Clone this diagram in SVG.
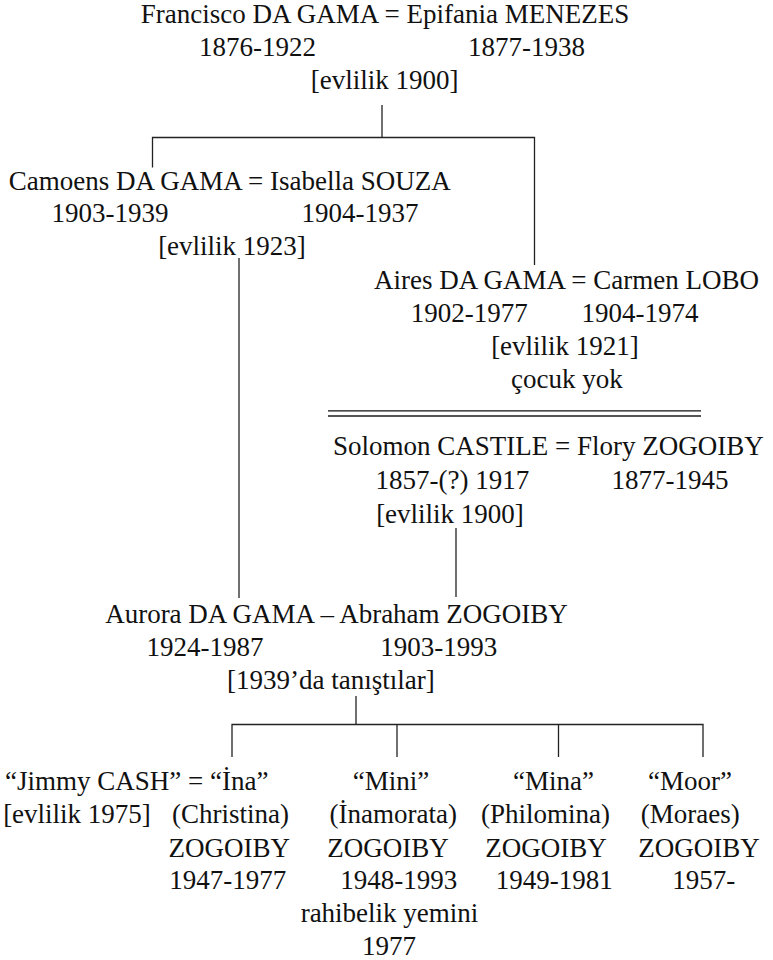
<svg xmlns="http://www.w3.org/2000/svg" width="773" height="960" viewBox="0 0 773 960">
<style>
text{font-family:"Liberation Serif","Times New Roman",serif;font-size:27px;fill:#111;text-anchor:middle}
.l{text-anchor:start}
.c line,.c path{stroke:#222;stroke-width:1.3;fill:none}
</style>
<rect width="773" height="960" fill="#fff"/>
<g id="connectors" class="c">
<line x1="382" y1="105" x2="382" y2="137.5"/>
<path d="M152.5 167.5V137.5H534.5V265"/>
<line x1="239" y1="258" x2="239" y2="598"/>
<line x1="456" y1="528" x2="456" y2="597"/>
<line x1="356" y1="696" x2="356" y2="724.5"/>
<path d="M232 757V724.5H703V757"/>
<line x1="397" y1="724.5" x2="397" y2="757"/>
<line x1="558.5" y1="724.5" x2="558.5" y2="757"/>
</g>
<g id="separator">
<line x1="328" y1="410.8" x2="701" y2="410.8" stroke="#111" stroke-width="1.2"/>
<line x1="328" y1="416" x2="701" y2="416" stroke="#555" stroke-width="2"/>
</g>
<g id="francisco-epifania">
<text x="385" y="23">Francisco DA GAMA = Epifania MENEZES</text>
<text x="257.6" y="56">1876-1922</text>
<text x="526.4" y="56">1877-1938</text>
<text x="384.6" y="89">[evlilik 1900]</text>
</g>
<g id="camoens-isabella">
<text x="229.8" y="189.5">Camoens DA GAMA = Isabella SOUZA</text>
<text x="110" y="222">1903-1939</text>
<text x="360" y="222">1904-1937</text>
<text x="232" y="255">[evlilik 1923]</text>
</g>
<g id="aires-carmen">
<text x="566.5" y="288.5">Aires DA GAMA = Carmen LOBO</text>
<text x="469.3" y="321.7">1902-1977</text>
<text x="640" y="321.7">1904-1974</text>
<text x="565" y="355">[evlilik 1921]</text>
<text x="566.8" y="388.3">çocuk yok</text>
</g>
<g id="solomon-flory">
<text x="548.3" y="455">Solomon CASTILE = Flory ZOGOIBY</text>
<text x="452.4" y="489">1857-(?) 1917</text>
<text x="670" y="489">1877-1945</text>
<text x="450" y="522.5">[evlilik 1900]</text>
</g>
<g id="aurora-abraham">
<text x="336.5" y="623">Aurora DA GAMA – Abraham ZOGOIBY</text>
<text x="205" y="655.5">1924-1987</text>
<text x="438.8" y="655.5">1903-1993</text>
<text x="330.8" y="689">[1939’da tanıştılar]</text>
</g>
<g id="ina">
<text class="l" x="5" y="790">“Jimmy CASH” = “İna”</text>
<text x="77" y="823">[evlilik 1975]</text>
<text x="230.5" y="823">(Christina)</text>
<text x="229.3" y="856.5">ZOGOIBY</text>
<text x="227.8" y="889">1947-1977</text>
</g>
<g id="mini">
<text x="391" y="790">“Mini”</text>
<text x="393.3" y="823">(İnamorata)</text>
<text x="388" y="856.5">ZOGOIBY</text>
<text x="398.8" y="889">1948-1993</text>
<text x="389.5" y="922">rahibelik yemini</text>
<text x="389" y="955">1977</text>
</g>
<g id="mina">
<text x="553.5" y="790">“Mina”</text>
<text x="545.6" y="823">(Philomina)</text>
<text x="546" y="856.5">ZOGOIBY</text>
<text x="554.3" y="889">1949-1981</text>
</g>
<g id="moor">
<text x="690" y="790">“Moor”</text>
<text x="690.3" y="823">(Moraes)</text>
<text x="699" y="856.5">ZOGOIBY</text>
<text x="703.8" y="889">1957-</text>
</g>
</svg>
